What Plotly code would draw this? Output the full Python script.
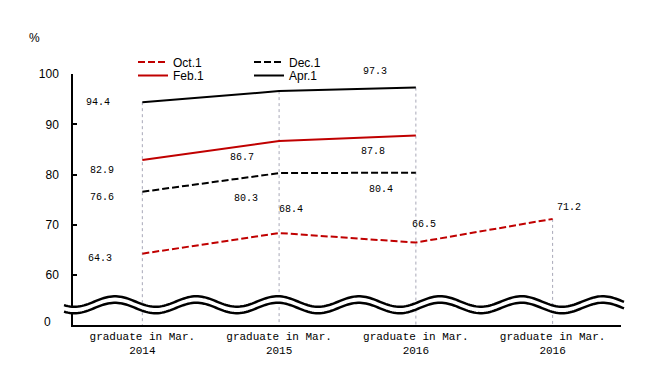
import math
import plotly.graph_objects as go

# ---------------- data ----------------
categories = ["graduate in Mar.<br>2014", "graduate in Mar.<br>2015",
              "graduate in Mar.<br>2016", "graduate in Mar.<br>2016"]
oct_vals = [64.3, 68.4, 66.5, 71.2]
dec_vals = [76.6, 80.3, 80.4, None]
feb_vals = [82.9, 86.7, 87.8, None]
apr_vals = [94.4, 96.6, 97.3, None]
y_tick_vals = [60, 70, 80, 90, 100]
y_tick_text = ["60", "70", "80", "90", "100"]

# ---------------- style ----------------
RED = "#c00000"
BLACK = "#000000"
W, H = 652, 373
ML, MR, MT, MB = 73, 31, 74, 48
PW, PH = W - ML - MR, H - MT - MB
Y_MIN, Y_MAX = 50.12, 100
MONO = "Liberation Mono"
SANS = "Liberation Sans"

x_pos = list(range(len(categories)))

series = [
    ("Oct.1", oct_vals, RED, "7px,3px", "legend"),
    ("Dec.1", dec_vals, BLACK, "7px,3px", "legend"),
    ("Feb.1", feb_vals, RED, "solid", "legend2"),
    ("Apr.1", apr_vals, BLACK, "solid", "legend2"),
]

# label offsets (dx, dy) in px, dy positive = down; None = not shown
label_offsets = {
    "Oct.1": [(-42, 4.5), (12, -23.5), (8, -18.5), (16, -11)],
    "Dec.1": [(-40, 6), (-33, 25), (-35, 16.5), None],
    "Feb.1": [(-40, 10.5), (-37, 17), (-43, 16), None],
    "Apr.1": [(-44.5, 0), None, (-41, -15.7), None],
}

fig = go.Figure()

# drop lines from the highest value of each category down to the axis
for i in x_pos:
    vals = [s[1][i] for s in series if s[1][i] is not None]
    top = max(vals)
    fig.add_trace(go.Scatter(
        x=[i, i], y=[top, Y_MIN], mode="lines",
        line=dict(color="#a8a8b8", width=1, dash="dot"),
        showlegend=False, hoverinfo="skip"))

for name, vals, color, dash, leg in series:
    fig.add_trace(go.Scatter(
        x=x_pos, y=vals, mode="lines", name=name, legend=leg,
        line=dict(color=color, width=2, dash=dash),
        hoverinfo="skip"))

annotations = []
for name, vals, color, dash, leg in series:
    for i, v in enumerate(vals):
        off = label_offsets[name][i]
        if v is None or off is None:
            continue
        annotations.append(dict(
            x=i, y=v, xref="x", yref="y", text=f"{v:.1f}", showarrow=False,
            xanchor="center", yanchor="middle",
            xshift=off[0], yshift=-off[1],
            font=dict(family=MONO, size=10, color="black")))


def px_to_paper(px, py):
    return (px - ML) / PW, (MT + PH - py) / PH


annotations.append(dict(
    x=px_to_paper(34.7, 0)[0], y=px_to_paper(0, 38)[1], xref="paper", yref="paper",
    xanchor="center", yanchor="middle",
    text="%", showarrow=False, font=dict(family=SANS, size=12, color="black")))
annotations.append(dict(
    x=px_to_paper(47.5, 0)[0], y=px_to_paper(0, 321.5)[1], xref="paper", yref="paper",
    xanchor="center", yanchor="middle",
    text="0", showarrow=False, font=dict(family=SANS, size=12, color="black")))

# axis break (wavy double line)
P, X0, AMP = 81.3, 115.0, 5.25
UP_C, LO_C = 301.5, 308.0
xs = [64 + k * 2 for k in range(0, 281)]


def wave(center):
    pts = []
    for px in xs:
        py = center - AMP * math.cos(2 * math.pi * (px - X0) / P)
        pts.append(px_to_paper(px, py))
    return pts


up = wave(UP_C)
lo = wave(LO_C)


def path_of(pts, close=False):
    s = "M " + " L ".join(f"{a:.5f},{b:.5f}" for a, b in pts)
    return s + (" Z" if close else "")


shapes = [
    dict(type="path", xref="paper", yref="paper", layer="above",
         path=path_of(up + lo[::-1], close=True),
         fillcolor="white", line=dict(width=0)),
    dict(type="path", xref="paper", yref="paper", layer="above",
         path=path_of(up), line=dict(color="black", width=2.5)),
    dict(type="path", xref="paper", yref="paper", layer="above",
         path=path_of(lo), line=dict(color="black", width=2.5)),
]

leg_common = dict(orientation="h", xanchor="left", yanchor="middle",
                  entrywidth=71, entrywidthmode="pixels",
                  bgcolor="rgba(0,0,0,0)", borderwidth=0,
                  font=dict(family=SANS, size=12, color="black"),
                  itemwidth=30, tracegroupgap=0)

fig.update_layout(
    width=W, height=H,
    margin=dict(l=ML, r=MR, t=MT, b=MB, pad=0),
    paper_bgcolor="white", plot_bgcolor="white",
    showlegend=True,
    legend=dict(x=px_to_paper(133, 0)[0], y=px_to_paper(0, 62)[1], **leg_common),
    legend2=dict(x=px_to_paper(133, 0)[0], y=px_to_paper(0, 75.5)[1], **leg_common),
    xaxis=dict(range=[-0.507, 3.5], tickvals=x_pos, ticktext=categories,
               showline=True, linecolor="black", linewidth=1.5, ticks="",
               showgrid=False, zeroline=False,
               tickfont=dict(family=MONO, size=11, color="black")),
    yaxis=dict(range=[Y_MIN, Y_MAX], tickvals=y_tick_vals, ticktext=y_tick_text,
               showline=True, linecolor="black", linewidth=1.5,
               ticks="inside", ticklen=4, tickcolor="black", tickwidth=1.5,
               showgrid=False, zeroline=False, ticklabelstandoff=10,
               tickfont=dict(family=SANS, size=12, color="black")),
    annotations=annotations,
    shapes=shapes,
)

fig.write_html("out.html", config={"displayModeBar": False},
               post_script="document.body.style.margin='0';")
